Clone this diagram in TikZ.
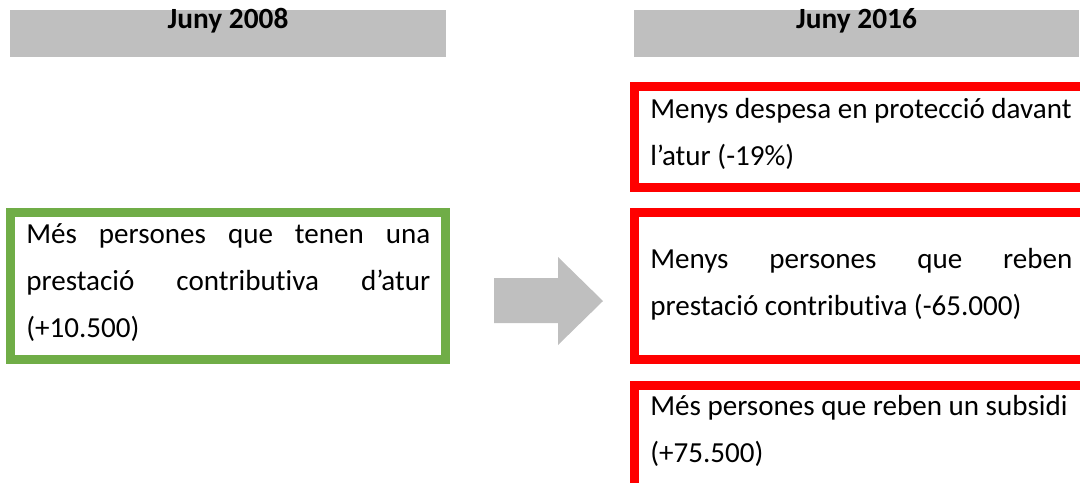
\documentclass[tikz,border=0pt]{standalone}
\usepackage{fontspec}
\setmainfont{Carlito}[Ligatures=NoCommon]
\definecolor{hdrgray}{HTML}{BFBFBF}
\definecolor{grn}{HTML}{70AD47}
\definecolor{rd}{HTML}{FF0000}
\tikzset{
  hdrbox/.style={fill=hdrgray, inner sep=0pt, minimum width=327pt, minimum height=35.25pt,
    font=\fontsize{22}{24}\selectfont\bfseries, text height=11.25pt, text depth=19.5pt},
  frame/.style={line width=6.75pt},
  boxtext/.style={anchor=base west, inner sep=0pt, align=left,
    font=\fontsize{21.8}{34.9}\selectfont}
}
\begin{document}
\begin{tikzpicture}[x=0.75pt,y=-0.75pt]
\useasboundingbox (0,0) rectangle (1080,482);
\clip (0,0) rectangle (1080,482);
% headers
\node[hdrbox] (h1) at (228,33.5) {Juny 2008};
\node[hdrbox, minimum width=333.75pt] (h2) at (856.5,33.5) {Juny 2016};
% green box
\draw[frame, draw=grn] (10.5,212.5) rectangle (445.5,359.5);
\node[boxtext] (g) at (26,337) {\makebox[303pt][s]{Més persones que tenen una}\\
  \makebox[303pt][s]{prestació contributiva d’atur}\\
  (+10.500)};
% arrow
\fill[hdrgray] (494,278) -- (558,278) -- (558,257) -- (603,301) -- (558,345) -- (558,323) -- (494,323) -- cycle;
% red boxes
\draw[frame, draw=rd] (634.5,86.5) rectangle (1110,187.5);
\node[boxtext] (r1) at (650,165) {Menys despesa en protecció davant\\ l’atur (-19\%)};
\draw[frame, draw=rd] (634.5,212.5) rectangle (1110,359.5);
\node[boxtext] (r2) at (650,315) {\makebox[316.5pt][s]{Menys persones que reben}\\
  prestació contributiva (-65.000)};
\draw[frame, draw=rd] (634.5,385.5) rectangle (1110,530);
\node[boxtext] (r3) at (650,462) {Més persones que reben un subsidi\\ (+75.500)};
\end{tikzpicture}
\end{document}
